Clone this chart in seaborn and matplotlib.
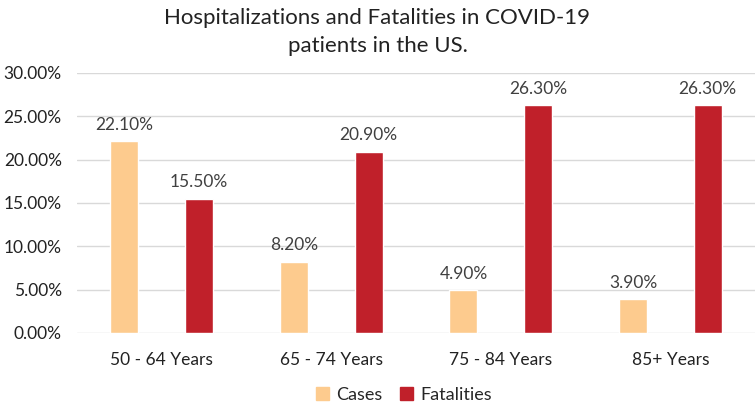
import pandas as pd
import matplotlib.pyplot as plt
import seaborn as sns
from matplotlib.ticker import FuncFormatter
from matplotlib.patches import Patch

# ---------- data ----------
age_groups = ["50 - 64 Years", "65 - 74 Years", "75 - 84 Years", "85+ Years"]
cases = [22.10, 8.20, 4.90, 3.90]
fatalities = [15.50, 20.90, 26.30, 26.30]
series_names = ["Cases", "Fatalities"]
colors = ["#FDCB8E", "#C0202A"]

df = pd.DataFrame({
    "age": age_groups * 2,
    "series": [series_names[0]] * 4 + [series_names[1]] * 4,
    "value": cases + fatalities,
})

sns.set_style("white")
plt.rcParams["font.family"] = ["Lato", "DejaVu Sans"]

fig = plt.figure(figsize=(7.55, 4.03), dpi=100)
ax = fig.add_axes([0.102, 0.174, 0.898, 0.645])

sns.barplot(data=df, x="age", y="value", hue="series", palette=colors,
            width=0.88, gap=0.625, ax=ax, legend=False, saturation=1)

ax.set_ylim(0, 30)
ax.set_yticks([0, 5, 10, 15, 20, 25, 30])
ax.yaxis.set_major_formatter(FuncFormatter(lambda v, p: f"{v:.2f}%"))
ax.grid(axis="y", color="#D9D9D9", linewidth=1)
ax.set_axisbelow(True)
for s in ax.spines.values():
    s.set_visible(False)
ax.set_xlabel("")
ax.set_ylabel("")
ax.tick_params(axis="both", length=0, labelsize=12.5, colors="#222222")
ax.tick_params(axis="x", pad=14)
ax.tick_params(axis="y", pad=11)
ax.set_xlim(-0.5, 3.5)

for cont in ax.containers:
    ax.bar_label(cont, labels=[f"{v:.2f}%" for v in cont.datavalues],
                 padding=6, fontsize=12.5, color="#404040")

fig.suptitle("Hospitalizations and Fatalities in COVID-19\npatients in the US.",
             y=0.98, fontsize=16, color="#222222", linespacing=1.5)

handles = [Patch(color=c, label=n) for c, n in zip(colors, series_names)]
fig.legend(handles=handles, loc="lower center", bbox_to_anchor=(0.535, -0.04),
           ncol=2, frameon=False, fontsize=13, handlelength=0.7, handleheight=0.7,
           columnspacing=1.0, handletextpad=0.4)

fig.savefig("out.png", dpi=100)
